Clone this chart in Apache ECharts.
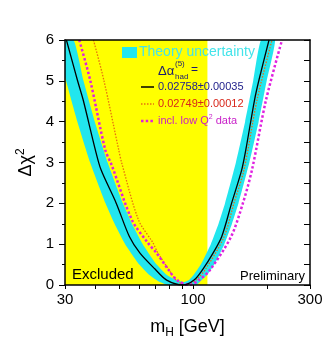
<!DOCTYPE html>
<html lang="en">
<head>
  <meta charset="utf-8">
  <title>Blue band</title>
  <script src="https://cdn.jsdelivr.net/npm/echarts@6/dist/echarts.min.js"></script>
  <style>
    html, body { margin: 0; padding: 0; background: #fff; }
    #chart { width: 327px; height: 359px; }
  </style>
</head>
<body>
  <div id="chart"></div>
<script>
  // axis ticks / labels
  var xLabelValues = [30, 100, 300];
  var xTickValues = [30, 40, 50, 60, 70, 80, 90, 100, 200, 300];
  var yLabels = [0, 1, 2, 3, 4, 5, 6];

  // LEP direct search, excluded region in m_H
  var excluded = [30, 114.4];

  // Δα = 0.02758±0.00035 (solid black)
  var blackMh = [30.4, 33.7, 35.6, 39.9, 42.1, 48.5, 55.0, 60.7, 69.9, 78.0, 90.9, 100.9, 109.7, 120.6, 130.8, 143.7, 157.9, 164.1, 178.1, 185.7, 204.1];
  var blackChi2 = [6.0, 5.02, 4.53, 3.31, 2.82, 2.01, 1.18, 0.78, 0.39, 0.12, 0.0, 0.12, 0.39, 0.78, 1.18, 2.01, 2.82, 3.31, 4.53, 5.02, 6.0];

  // theory uncertainty band: outer edge (left top -> bottom -> right top), inner edge (right top -> left top)
  var bandOuterMh = [27.6, 30.3, 33.7, 38.0, 43.9, 47.8, 52.8, 60.3, 66.1, 71.9, 79.0, 102.8, 107.5, 114.2, 122.1, 134.1, 144.1, 153.2, 169.7, 185.1, 199.7, 215.9];
  var bandOuterChi2 = [6, 5, 4, 3, 2, 1.5, 1, 0.5, 0.25, 0.1, 0, 0, 0.1, 0.25, 0.5, 1, 1.5, 2, 3, 4, 5, 6];
  var bandInnerMh = [189.3, 175.9, 163.0, 149.5, 135.0, 127.0, 118.1, 107.5, 100.6, 96.2, 91.8, 85.2, 77.9, 71.0, 62.3, 56.3, 51.7, 44.8, 39.7, 35.7, 32.5];
  var bandInnerChi2 = [6, 5, 4, 3, 2, 1.5, 1, 0.5, 0.25, 0.12, 0.07, 0.12, 0.25, 0.5, 1, 1.5, 2, 3, 4, 5, 6];

  // Δα = 0.02749±0.00012 (orange dotted)
  var smallErrMh = [39.2, 43.2, 49.7, 51.1, 59.9, 68.6, 71.9, 79.7, 85.2, 93.5, 102.8, 112.4, 133.7, 146.9, 161.3, 182.3, 209.9];
  var smallErrChi2 = [6.0, 5.02, 3.31, 2.99, 1.59, 1.03, 0.78, 0.37, 0.12, 0.0, 0.12, 0.39, 1.18, 2.01, 2.82, 4.53, 6.0];

  // incl. low Q^2 data (magenta dotted)
  var lowQ2Mh = [34.3, 38.0, 43.8, 46.5, 56.3, 65.4, 71.0, 79.0, 86.0, 96.5, 105.7, 117.2, 142.8, 159.8, 173.9, 198.4, 230.6];
  var lowQ2Chi2 = [6.0, 5.02, 3.31, 2.94, 1.59, 1.03, 0.78, 0.39, 0.12, 0.0, 0.12, 0.37, 1.18, 2.01, 2.82, 4.53, 6.0];

  function zip(xs, ys) {
    return xs.map(function (x, i) { return [x, ys[i]]; });
  }

  var font = '"Liberation Sans", Arial, sans-serif';
  var yMin = yLabels[0], yMax = yLabels[yLabels.length - 1];
  var cyan = '#22e6ee';

  var chart = echarts.init(document.getElementById('chart'));

  var option = {
    animation: false,
    textStyle: { fontFamily: font },
    grid: { left: 65, top: 40, width: 245, height: 245, show: true, backgroundColor: '#fff', borderWidth: 0 },
    xAxis: [{
      type: 'log', logBase: 10, min: 30, max: 300, position: 'bottom', z: 10,
      axisLine: { show: true, onZero: false, lineStyle: { color: '#000', width: 1.5 } },
      axisTick: { show: true, inside: false, length: 4, customValues: xTickValues, lineStyle: { color: '#000' } },
      axisLabel: { customValues: xLabelValues, color: '#000', fontSize: 15, margin: 7, fontFamily: font },
      splitLine: { show: false },
      name: 'm{sub|H} [GeV]', nameLocation: 'middle', nameGap: 30,
      nameTextStyle: { color: '#000', fontSize: 18, fontFamily: font, rich: { sub: { fontSize: 12, fontFamily: font, padding: [12, 0, 0, 0] } } }
    }, {
      type: 'log', logBase: 10, min: 30, max: 300, position: 'top', z: 10,
      axisLine: { show: true, onZero: false, lineStyle: { color: '#000', width: 1.5 } },
      axisTick: { show: false }, axisLabel: { show: false }, splitLine: { show: false }
    }],
    yAxis: [{
      type: 'value', min: yMin, max: yMax, interval: 1, position: 'left', z: 10,
      axisLine: { show: true, onZero: false, lineStyle: { color: '#000', width: 1.5 } },
      axisTick: { show: true, inside: false, length: 6, lineStyle: { color: '#000' } },
      minorTick: { show: true, splitNumber: 2, length: 3, lineStyle: { color: '#000' } },
      axisLabel: { color: '#000', fontSize: 15, margin: 11, fontFamily: font },
      splitLine: { show: false }, minorSplitLine: { show: false },
      name: 'Δχ{sup|2}', nameLocation: 'middle', nameRotate: 90, nameGap: 28,
      nameTextStyle: { color: '#000', fontSize: 18, fontFamily: font, rich: { sup: { fontSize: 12, fontFamily: font, padding: [0, 0, 10, 0] } } }
    }, {
      type: 'value', min: yMin, max: yMax, interval: 0.5, position: 'right', z: 10,
      axisLine: { show: true, onZero: false, lineStyle: { color: '#000', width: 1.5 } },
      axisTick: { show: true, inside: true, length: 6, lineStyle: { color: '#000' } },
      axisLabel: { show: false }, splitLine: { show: false }
    }],
    series: [{
      type: 'custom', name: 'excluded', silent: true, z: 1, clip: true,
      data: [excluded],
      renderItem: function (params, api) {
        var p0 = api.coord([api.value(0), yMax]);
        var p1 = api.coord([api.value(1), yMin]);
        return { type: 'rect', shape: { x: p0[0], y: p0[1], width: p1[0] - p0[0], height: p1[1] - p0[1] }, style: { fill: '#ffff00' } };
      }
    }, {
      type: 'custom', name: 'theory', silent: true, z: 2, clip: true,
      data: [[bandOuterMh[0], bandOuterChi2[0]]],
      renderItem: function (params, api) {
        var pts = zip(bandOuterMh, bandOuterChi2).concat(zip(bandInnerMh, bandInnerChi2)).map(function (d) { return api.coord(d); });
        return { type: 'polygon', shape: { points: pts, smooth: 0.15 }, style: { fill: cyan } };
      }
    }, {
      type: 'line', name: '0.02749', z: 3, smooth: 0.3, showSymbol: false, clip: true,
      data: zip(smallErrMh, smallErrChi2),
      lineStyle: { color: '#e8700e', width: 1.3, type: [1.5, 1.5] }
    }, {
      type: 'line', name: 'lowQ2', z: 4, smooth: 0.3, showSymbol: false, clip: true,
      data: zip(lowQ2Mh, lowQ2Chi2),
      lineStyle: { color: '#e020e0', width: 2.5, type: [2.5, 2.2] }
    }, {
      type: 'line', name: '0.02758', z: 5, smooth: 0.3, showSymbol: false, clip: true,
      data: zip(blackMh, blackChi2),
      lineStyle: { color: '#000', width: 1.3 }
    }],
    graphic: [
      { type: 'rect', z: 20, shape: { x: 122, y: 47, width: 15, height: 11 }, style: { fill: cyan } },
      { type: 'text', z: 20, x: 139, y: 52, style: { text: 'Theory uncertainty', fill: '#44e4ea', font: '14px ' + font, textVerticalAlign: 'middle' } },
      { type: 'text', z: 20, x: 158, y: 71, style: { text: 'Δα', fill: '#1a1a70', font: '13px ' + font, textVerticalAlign: 'middle' } },
      { type: 'text', z: 20, x: 175, y: 64, style: { text: '(5)', fill: '#1a1a70', font: '8px ' + font, textVerticalAlign: 'middle' } },
      { type: 'text', z: 20, x: 175, y: 77, style: { text: 'had', fill: '#1a1a70', font: '8px ' + font, textVerticalAlign: 'middle' } },
      { type: 'text', z: 20, x: 191, y: 70, style: { text: '=', fill: '#1a1a70', font: '12px ' + font, textVerticalAlign: 'middle' } },
      { type: 'line', z: 20, shape: { x1: 141, y1: 87, x2: 154, y2: 87 }, style: { stroke: '#000', lineWidth: 1.5 } },
      { type: 'text', z: 20, x: 158, y: 87, style: { text: '0.02758±0.00035', fill: '#22228c', font: '11px ' + font, textVerticalAlign: 'middle' } },
      { type: 'line', z: 20, shape: { x1: 141, y1: 104, x2: 154, y2: 104 }, style: { stroke: '#e8700e', lineWidth: 1.3, lineDash: [1.5, 1.5] } },
      { type: 'text', z: 20, x: 158, y: 104, style: { text: '0.02749±0.00012', fill: '#d8261a', font: '11px ' + font, textVerticalAlign: 'middle' } },
      { type: 'line', z: 20, shape: { x1: 141, y1: 121, x2: 154, y2: 121 }, style: { stroke: '#e020e0', lineWidth: 2.5, lineDash: [2.5, 2.2] } },
      { type: 'text', z: 20, x: 158, y: 121, style: { text: 'incl. low Q{sup|2} data', fill: '#c81ec8', font: '11px ' + font, textVerticalAlign: 'middle',
        rich: { sup: { fontSize: 7, fill: '#c81ec8', padding: [0, 0, 7, 0] } } } },
      { type: 'text', z: 20, x: 72, y: 275, style: { text: 'Excluded', fill: '#000', font: '15px ' + font, textVerticalAlign: 'middle' } },
      { type: 'text', z: 20, x: 305, y: 276, style: { text: 'Preliminary', fill: '#000', font: '13px ' + font, textAlign: 'right', textVerticalAlign: 'middle' } }
    ]
  };

  chart.setOption(option);
</script>
</body>
</html>
